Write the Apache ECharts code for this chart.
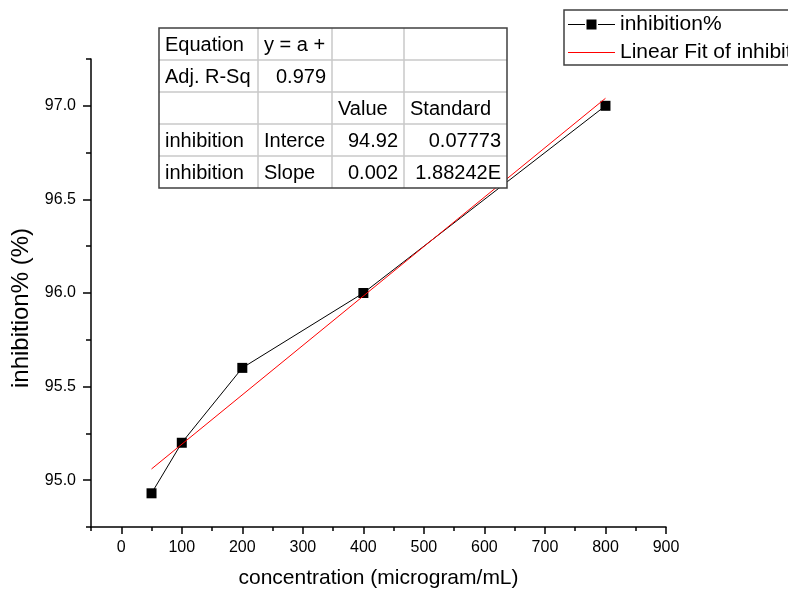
<!DOCTYPE html>
<html>
<head>
<meta charset="utf-8">
<title>inhibition%</title>
<script src="https://cdn.jsdelivr.net/npm/echarts@6/dist/echarts.min.js"></script>
<style>
    html, body { margin: 0; padding: 0; background: #fff; }
    #chart { width: 788px; height: 596px; }
</style>
</head>
<body>
<div id="chart"></div>
<script>
// data
let conc = [50, 100, 200, 400, 800];
let inhib = [94.93, 95.2, 95.6, 96.0, 97.0];

// linear fit end points
let fitX = [50, 800];
let fitY = [95.06, 97.04];

// tick labels
let xTicks = [0, 100, 200, 300, 400, 500, 600, 700, 800, 900];
let yTicks = [95.0, 95.5, 96.0, 96.5, 97.0];

// fit result table
let tableRows = [
    ['Equation', 'y = a +', '', ''],
    ['Adj. R-Sq', '0.979', '', ''],
    ['', '', 'Value', 'Standard'],
    ['inhibition', 'Interce', '94.92', '0.07773'],
    ['inhibition', 'Slope', '0.002', '1.88242E']
];

let chart = echarts.init(document.getElementById('chart'));

let FONT = '"Liberation Sans", Arial, sans-serif';

//legend icons: line-square-line and plain line
let ICON_SCATTER_LINE = 'path://M0,7.5L17,7.5L17,8.5L0,8.5Z M18.5,3L28.5,3L28.5,13L18.5,13Z M30,7.5L47,7.5L47,8.5L30,8.5Z';
let ICON_LINE = 'path://M0,7.5L47,7.5L47,8.5L0,8.5Z';

//table as graphic elements
function build_table() {
    let colX = [159, 258, 332, 404, 507];
    let top = 28;
    let rowH = 32;
    let items = [];

    // inner grid lines
    for (let r = 1; r < tableRows.length; r++) {
        items.push({
            type: 'line',
            shape: { x1: colX[0], y1: top + r * rowH, x2: colX[4], y2: top + r * rowH },
            style: { stroke: '#c8c8c8', lineWidth: 1.5 },
            z: 100
        });
    }
    for (let c = 1; c < colX.length - 1; c++) {
        items.push({
            type: 'line',
            shape: { x1: colX[c], y1: top, x2: colX[c], y2: top + rowH * tableRows.length },
            style: { stroke: '#c8c8c8', lineWidth: 1.5 },
            z: 100
        });
    }

    tableRows.forEach((row, r) => {
        row.forEach((txt, c) => {
            if (txt === '') return;
            let isNum = /^[0-9.]/.test(txt);
            items.push({
                type: 'text',
                style: {
                    text: txt,
                    x: isNum ? colX[c + 1] - 6 : colX[c] + 6,
                    y: top + r * rowH + rowH / 2 + 1,
                    textAlign: isNum ? 'right' : 'left',
                    textVerticalAlign: 'middle',
                    font: '20px ' + FONT,
                    fill: '#000'
                },
                z: 101
            });
        });
    });

    // outer frame
    items.push({
        type: 'rect',
        shape: { x: colX[0], y: top, width: colX[4] - colX[0], height: rowH * tableRows.length },
        style: { fill: null, stroke: '#404040', lineWidth: 1.5 },
        z: 102
    });

    return [{
        type: 'rect',
        shape: { x: colX[0], y: top, width: colX[4] - colX[0], height: rowH * tableRows.length },
        style: { fill: '#fff' },
        z: 99
    }].concat(items);
}

let option = {
    animation: false,
    backgroundColor: '#fff',
    textStyle: { fontFamily: FONT },
    grid: {
        left: 91,
        right: 122,
        top: 59,
        bottom: 69,
        containLabel: false,
        outerBoundsMode: 'none'
    },
    legend: {
        left: 564,
        top: 10,
        orient: 'vertical',
        padding: [4, 4, 2, 4],
        itemGap: 7,
        itemWidth: 47,
        itemHeight: 16,
        borderColor: '#404040',
        borderWidth: 1.5,
        backgroundColor: '#fff',
        textStyle: { fontSize: 21, color: '#000', fontFamily: FONT },
        data: [
            { name: 'inhibition%', icon: ICON_SCATTER_LINE },
            { name: 'Linear Fit of inhibition%', icon: ICON_LINE }
        ]
    },
    xAxis: [{
        type: 'value',
        position: 'bottom',
        min: -50,
        max: 900,
        name: 'concentration (microgram/mL)',
        nameLocation: 'middle',
        nameGap: 41,
        nameTextStyle: { fontSize: 21, color: '#000', fontFamily: FONT },
        axisLine: { onZero: false, lineStyle: { color: '#000', width: 1.5 } },
        axisTick: { customValues: xTicks, length: 7, lineStyle: { color: '#000', width: 1.5 } },
        axisLabel: { customValues: xTicks, margin: 13, fontSize: 16, color: '#000', fontFamily: FONT },
        splitLine: { show: false }
    }, {
        type: 'value',
        position: 'bottom',
        min: -50,
        max: 900,
        interval: 50,
        axisLine: { show: false, onZero: false },
        axisTick: { length: 4, lineStyle: { color: '#000', width: 1.5 } },
        axisLabel: { show: false },
        splitLine: { show: false }
    }],
    yAxis: [{
        type: 'value',
        position: 'left',
        min: 94.75,
        max: 97.25,
        name: 'inhibition% (%)',
        nameLocation: 'middle',
        nameGap: 58,
        nameTextStyle: { fontSize: 24, color: '#000', fontFamily: FONT, padding: [0, 30, 0, 0] },
        axisLine: { onZero: false, lineStyle: { color: '#000', width: 1.5 } },
        axisTick: { customValues: yTicks, length: 8, lineStyle: { color: '#000', width: 1.5 } },
        axisLabel: {
            customValues: yTicks,
            margin: 15,
            fontSize: 16,
            color: '#000',
            fontFamily: FONT,
            formatter: v => v.toFixed(1)
        },
        splitLine: { show: false }
    }, {
        type: 'value',
        position: 'left',
        min: 94.75,
        max: 97.25,
        interval: 0.25,
        axisLine: { show: false, onZero: false },
        axisTick: { length: 5, lineStyle: { color: '#000', width: 1.5 } },
        axisLabel: { show: false },
        splitLine: { show: false }
    }],
    series: [{
        name: 'inhibition%',
        type: 'line',
        xAxisIndex: 0,
        yAxisIndex: 0,
        data: conc.map((x, i) => [x, inhib[i]]),
        symbol: 'rect',
        symbolSize: 10,
        lineStyle: { color: '#000', width: 1 },
        itemStyle: { color: '#000' },
        z: 3
    }, {
        name: 'Linear Fit of inhibition%',
        type: 'line',
        xAxisIndex: 0,
        yAxisIndex: 0,
        data: fitX.map((x, i) => [x, fitY[i]]),
        showSymbol: false,
        symbol: 'none',
        lineStyle: { color: '#ff0000', width: 1 },
        itemStyle: { color: '#ff0000' },
        z: 4
    }],
    graphic: build_table()
};

chart.setOption(option);

window.addEventListener('resize', function () {
    chart.resize();
});
</script>
</body>
</html>
